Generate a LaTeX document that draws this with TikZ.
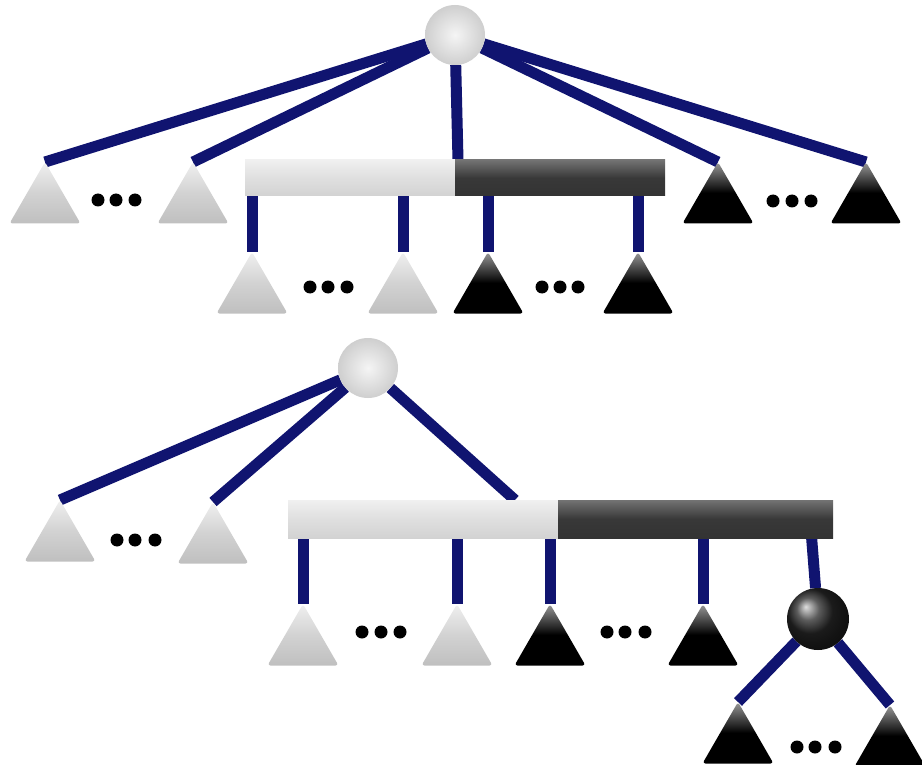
\documentclass[tikz,border=0pt]{standalone}
\usetikzlibrary{shapes.geometric,backgrounds}
\definecolor{azulescuro}{RGB}{16,20,112}

\begin{document}
\begin{tikzpicture}[
  x=1pt, y=-1pt,
  every node/.style={inner sep=0pt, outer sep=0pt},
  aresta/.style={draw=azulescuro, line width=11pt}
]
\tikzset{
  bola clara/.style={circle, minimum size=60pt, shading=radial, inner color=gray!8, outer color=gray!38},
  bola escura/.style={circle, minimum size=62pt, ball color=black!85},
  tri/.style={regular polygon, regular polygon sides=3, minimum size=82pt, rounded corners=3pt, anchor=corner 1},
  tri claro/.style={tri, top color=gray!12, bottom color=gray!50, middle color=gray!35},
  tri escuro/.style={tri, top color=gray!80, bottom color=black, middle color=black},
  barra clara/.style={rectangle, top color=gray!12, bottom color=gray!35, middle color=gray!25},
  barra escura/.style={rectangle, top color=black!55, bottom color=black!80, middle color=black!78},
  ponto/.style={circle, fill=black, minimum size=13pt}
}
\useasboundingbox (0,0) rectangle (922,765);

\node[bola clara] (raiz1) at (455,35) {};
\node[tri claro] (ta1) at (45,162) {};
\node[tri claro] (ta2) at (193,162) {};
\node[tri escuro] (ta3) at (718,162) {};
\node[tri escuro] (ta4) at (866,162) {};
\node[barra clara, minimum width=210pt, minimum height=36pt] (barra1c) at (350,178) {};
\node[barra escura, minimum width=210pt, minimum height=36pt] (barra1e) at (560,178) {};
\node[tri claro] (tb1) at (252,252) {};
\node[tri claro] (tb2) at (403,252) {};
\node[tri escuro] (tb3) at (488,252) {};
\node[tri escuro] (tb4) at (638,252) {};
\coordinate (b1) at (458,160);

\node[bola clara] (raiz2) at (368,368) {};
\node[tri claro] (tc1) at (60,500) {};
\node[tri claro] (tc2) at (213,502) {};
\node[barra clara, minimum width=270pt, minimum height=38pt] (barra2c) at (423,519) {};
\node[barra escura, minimum width=275pt, minimum height=38pt] (barra2e) at (695.5,519) {};
\node[tri claro] (td1) at (303,604) {};
\node[tri claro] (td2) at (457,604) {};
\node[tri escuro] (td3) at (550,604) {};
\node[tri escuro] (td4) at (703,604) {};
\node[bola escura] (bola) at (818,619) {};
\node[tri escuro] (te1) at (738,702) {};
\node[tri escuro] (te2) at (890,705) {};
\coordinate (b2) at (515,500);
\coordinate (b3) at (811,530);

\foreach \x/\y/\n in {98/200/1, 116/200/2, 135/200/3, 773/201/4, 792/201/5, 811/201/6,
    310/287/7, 328/287/8, 347/287/9, 542/287/10, 560/287/11, 578/287/12,
    117/540/13, 135/540/14, 155/540/15, 362/632/16, 381/632/17, 400/632/18,
    607/632/19, 625/632/20, 645/632/21, 797/747/22, 815/747/23, 835/747/24}
  \node[ponto] (p\n) at (\x,\y) {};

\begin{pgfonlayer}{background}
  \draw[aresta] (raiz1) -- (ta1.corner 1);
  \draw[aresta] (raiz1) -- (ta2.corner 1);
  \draw[aresta] (raiz1) -- (ta3.corner 1);
  \draw[aresta] (raiz1) -- (ta4.corner 1);
  \draw[aresta] (raiz1) -- (b1);
  \draw[aresta] (tb1.corner 1 |- barra1c) -- (tb1.corner 1);
  \draw[aresta] (tb2.corner 1 |- barra1c) -- (tb2.corner 1);
  \draw[aresta] (tb3.corner 1 |- barra1e) -- (tb3.corner 1);
  \draw[aresta] (tb4.corner 1 |- barra1e) -- (tb4.corner 1);

  \draw[aresta] (raiz2) -- (tc1.corner 1);
  \draw[aresta] (raiz2) -- (tc2.corner 1);
  \draw[aresta] (raiz2) -- (b2);
  \draw[aresta] (td1.corner 1 |- barra2c) -- (td1.corner 1);
  \draw[aresta] (td2.corner 1 |- barra2c) -- (td2.corner 1);
  \draw[aresta] (td3.corner 1 |- barra2e) -- (td3.corner 1);
  \draw[aresta] (td4.corner 1 |- barra2e) -- (td4.corner 1);
  \draw[aresta] (b3) -- (bola);
  \draw[aresta] (bola) -- (te1.corner 1);
  \draw[aresta] (bola) -- (te2.corner 1);
\end{pgfonlayer}
\end{tikzpicture}
\end{document}
